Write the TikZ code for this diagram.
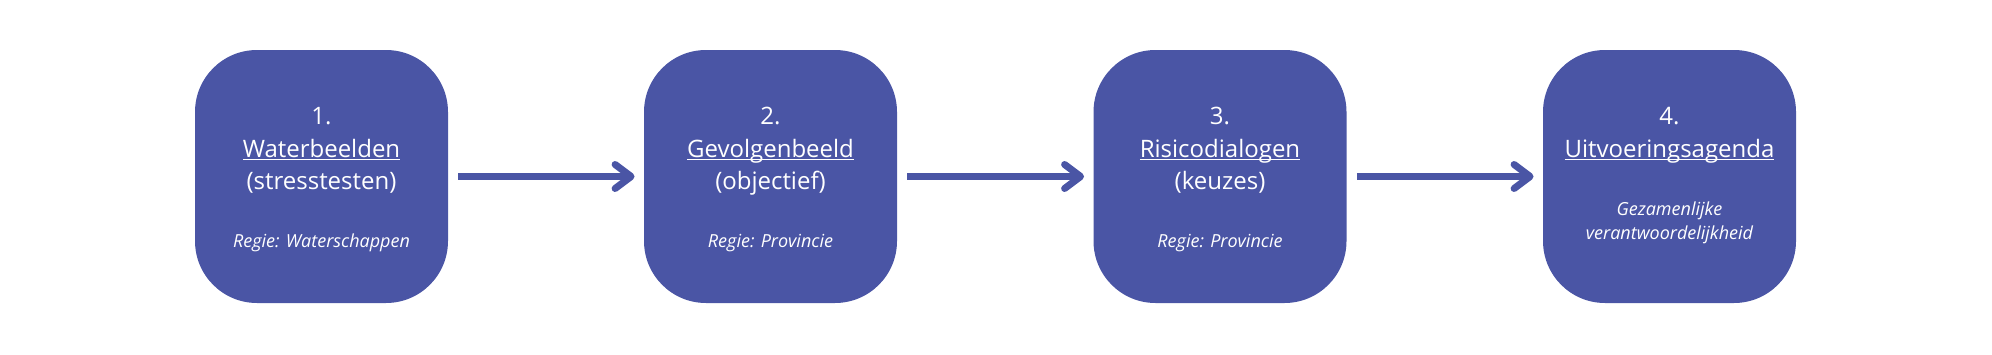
\documentclass[tikz,border=0pt]{standalone}
\usepackage{fontspec}
\setmainfont{Open Sans}
\usetikzlibrary{arrows.meta}
\definecolor{stapblauw}{RGB}{74,85,165}
\newcommand{\onderstreep}[1]{\setbox0=\hbox{#1}\rlap{\rule[-1.4pt]{\wd0}{0.65pt}}\box0}

\begin{document}
\begin{tikzpicture}[x=0.5pt, y=-0.5pt,
  stap/.style={fill=stapblauw, rounded corners=31pt, minimum width=126.5pt, minimum height=126.5pt, inner sep=0pt},
  kop/.style={text=white, anchor=base, inner sep=0pt, font=\fontsize{12}{15}\selectfont},
  regie/.style={text=white, anchor=base, inner sep=0pt, font=\fontsize{9}{12}\selectfont\itshape},
  pijl/.style={draw=stapblauw, line width=3.5pt, -{Straight Barb[length=8pt, width=12pt, round]}, shorten <=5pt, shorten >=4.5pt}]
  \useasboundingbox (0,0) rectangle (1992,354);
  \node[stap] (S1) at (321.5,176.5) {};
  \node[stap] (S2) at (770.5,176.5) {};
  \node[stap] (S3) at (1220,176.5) {};
  \node[stap] (S4) at (1669.5,176.5) {};
  % stap 1
  \node[kop] (N1) at (321.5,124.5) {1.};
  \node[kop] (T1) at (321.5,157.3) {\onderstreep{Waterbeelden}};
  \node[kop] (O1) at (321.5,189.5) {(stresstesten)};
  \node[regie] (R1) at (321.5,247.3) {Regie: Waterschappen};
  % stap 2
  \node[kop] (N2) at (770.5,124.5) {2.};
  \node[kop] (T2) at (770.5,157.3) {\onderstreep{Gevolgenbeeld}};
  \node[kop] (O2) at (770.5,189.5) {(objectief)};
  \node[regie] (R2) at (770.5,247.3) {Regie: Provincie};
  % stap 3
  \node[kop] (N3) at (1220,124.5) {3.};
  \node[kop] (T3) at (1220,157.3) {\onderstreep{Risicodialogen}};
  \node[kop] (O3) at (1220,189.5) {(keuzes)};
  \node[regie] (R3) at (1220,247.3) {Regie: Provincie};
  % stap 4
  \node[kop] (N4) at (1669.5,124.5) {4.};
  \node[kop] (T4) at (1669.5,157.3) {\onderstreep{Uitvoeringsagenda}};
  \node[regie] (R4) at (1669.5,215) {Gezamenlijke};
  \node[regie] (V4) at (1669.5,239.5) {verantwoordelijkheid};
  % pijlen
  \draw[pijl] (S1) -- (S2);
  \draw[pijl] (S2) -- (S3);
  \draw[pijl] (S3) -- (S4);
\end{tikzpicture}
\end{document}
